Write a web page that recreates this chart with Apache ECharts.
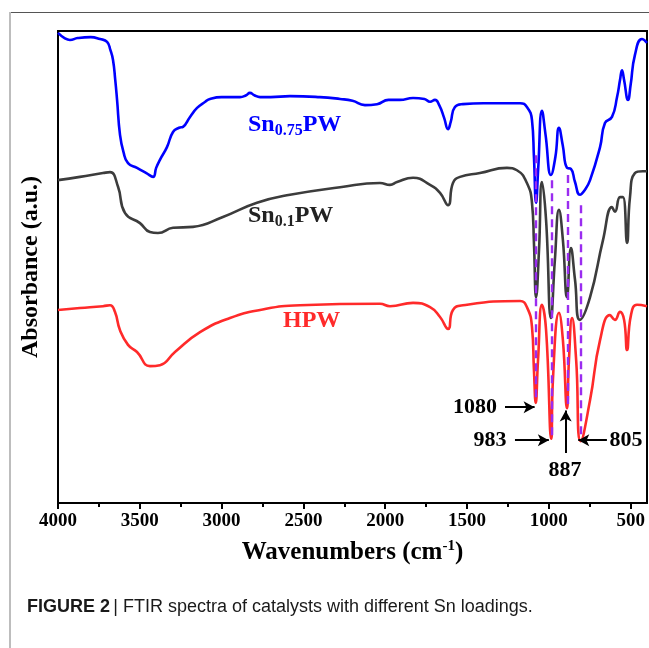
<!DOCTYPE html>
<html>
<head>
<meta charset="utf-8">
<script src="https://cdn.jsdelivr.net/npm/echarts@6/dist/echarts.min.js"></script>
<style>
html,body{margin:0;padding:0;background:#fff;}
#chart{width:649px;height:648px;}
</style>
</head>
<body>
<div id="chart"></div>
<script>
// ---- data (wavenumber cm-1, absorbance a.u. offset scale) ----
const tickValues = [500, 1000, 1500, 2000, 2500, 3000, 3500, 4000];
const minorTickValues = [750, 1250, 1750, 2250, 2750, 3250, 3750];

const sn075Wave = [4000,3960,3927,3880,3800,3743,3700,3680,3664,3650,3639,3621,3600,3572,3517,3460,3419,3400,3377,3334,3297,3260,3236,3193,3150,3100,3071,3000,2967,2888,2850,2827,2800,2765,2700,2582,2400,2276,2200,2124,2050,1980,1910,1830,1760,1726,1696,1670,1640,1616,1600,1574,1525,1400,1300,1176,1134,1103,1091,1078,1065,1042,1020,987,960,938,915,889,865,840,810,780,748,687,657,614,583,565,553,540,516,500,474,431,400];
const sn075Abs  = [99.6,98.5,98.1,98.5,98.7,98.3,97.7,96.0,93.9,89.6,85.4,78.0,74.4,72.0,71.0,69.9,69.1,71.0,72.7,75.4,78.6,79.5,79.7,81.8,83.7,85.0,85.6,86.0,86.0,86.0,86.4,86.9,86.4,86.0,86.0,86.2,86.0,85.6,85.2,84.3,84.5,85.4,85.4,85.8,85.6,85.0,85.4,84.3,81.6,79.2,80.7,83.9,84.5,84.7,84.7,84.7,83.9,81.1,73.3,63.6,70.8,83.1,78.0,69.5,73.3,79.5,75.8,71.0,70.8,68.0,65.3,66.3,68.4,75.4,80.5,81.8,86.0,89.6,91.7,89.6,85.4,88.6,94.9,98.3,97.5];

const sn01Wave = [4000,3866,3725,3682,3633,3590,3499,3438,3389,3297,3175,2992,2784,2582,2276,2032,1971,1928,1830,1726,1665,1616,1586,1543,1421,1256,1195,1134,1103,1091,1078,1060,1042,1017,987,963,938,914,889,865,840,810,748,669,614,596,565,547,522,504,474,425,400];
const sn01Abs  = [68.4,69.1,69.9,70.1,67.0,61.4,59.3,57.4,57.2,58.3,58.5,60.6,63.6,65.3,66.9,67.8,67.4,68.0,68.9,67.4,65.7,63.1,67.8,69.1,69.9,71.0,70.5,67.8,63.6,55.1,43.6,53.6,68.0,60.0,39.2,51.5,62.1,55.7,43.6,54.0,47.3,38.8,43.6,55.7,62.7,61.7,64.8,64.8,55.1,64.8,69.9,70.3,70.3];

const hpwWave = [4000,3866,3725,3682,3652,3621,3572,3517,3438,3377,3285,3132,2949,2765,2521,2032,1971,1830,1726,1665,1616,1586,1525,1176,1134,1103,1091,1080,1066,1042,1017,985,975,938,914,889,877,858,833,805,748,687,626,596,565,540,522,498,461,400];
const hpwAbs  = [40.9,41.3,41.7,41.9,40.5,36.6,33.5,32.0,29.0,29.2,32.0,36.2,39.2,40.9,41.9,42.2,41.7,42.4,41.5,39.4,36.9,40.9,41.9,42.8,41.5,37.3,28.2,21.2,30.3,42.0,36.7,13.6,26.1,40.3,34.5,20.1,30.3,39.2,30.3,13.1,21.8,34.5,39.8,38.8,40.5,38.8,32.4,39.8,42.0,41.7];

// marked bands: wavenumber, top and bottom of dashed guide
const bandWave   = [1080, 983, 887, 805];
const bandTop    = [73.7, 68.4, 69.5, 63.1];
const bandBottom = [21.8, 14.0, 20.8, 13.3];

// arrows: [fromWave, fromAbs] -> [toWave, toAbs]
const arrowFrom = [[1268, 20.3], [1207, 13.3], [897, 10.6], [645, 13.3]];
const arrowTo   = [[1087, 20.3], [1000, 13.3], [897, 19.6], [820, 13.3]];
const arrowText = ['1080', '983', '887', '805'];

function zip(a, b) { return a.map((v, i) => [v, b[i]]); }

const serif = "'Liberation Serif', 'Times New Roman', serif";
const chart = echarts.init(document.getElementById('chart'), null, {renderer: 'canvas'});

const option = {
  animation: false,
  backgroundColor: '#fff',
  grid: {left: 58, right: 2, top: 31, bottom: 145, show: true, borderColor: '#000', borderWidth: 2},
  xAxis: [{
    type: 'value', inverse: true, min: 400, max: 4000,
    axisLine: {show: true, lineStyle: {color: '#000', width: 2}},
    axisTick: {show: true, customValues: tickValues, length: 6, inside: false, lineStyle: {color: '#000', width: 2}},
    axisLabel: {show: true, customValues: tickValues, margin: 9, color: '#000', fontFamily: serif, fontWeight: 'bold', fontSize: 19,
                formatter: function (v) { return String(v); }},
    splitLine: {show: false},
    name: '{t|Wavenumbers (cm}{p|-1}{t|)}',
    nameLocation: 'middle', nameGap: 36,
    nameTextStyle: {
      rich: {
        t: {fontFamily: serif, fontWeight: 'bold', fontSize: 25, lineHeight: 28, color: '#000'},
        p: {fontFamily: serif, fontWeight: 'bold', fontSize: 15, lineHeight: 15, verticalAlign: 'top', color: '#000'}
      }
    }
  }, {
    type: 'value', inverse: true, min: 400, max: 4000, position: 'bottom',
    axisLine: {show: false},
    axisTick: {show: true, customValues: minorTickValues, length: 4, lineStyle: {color: '#000', width: 2}},
    axisLabel: {show: false},
    splitLine: {show: false}
  }],
  yAxis: {
    type: 'value', min: 0, max: 100,
    axisLine: {show: true, lineStyle: {color: '#000', width: 2}},
    axisTick: {show: false}, axisLabel: {show: false}, splitLine: {show: false},
    name: 'Absorbance (a.u.)', nameLocation: 'middle', nameGap: 15, nameRotate: 90,
    nameTextStyle: {fontFamily: serif, fontWeight: 'bold', fontSize: 24, color: '#000'}
  },
  series: [
    {name: 'HPW', type: 'line', data: zip(hpwWave, hpwAbs), symbol: 'none', smooth: 0.5,
     lineStyle: {color: '#ff2a2a', width: 2.6}},
    {name: 'Sn0.1PW', type: 'line', data: zip(sn01Wave, sn01Abs), symbol: 'none', smooth: 0.5,
     lineStyle: {color: '#3c3c3c', width: 2.6}},
    {name: 'Sn0.75PW', type: 'line', data: zip(sn075Wave, sn075Abs), symbol: 'none', smooth: 0.5,
     lineStyle: {color: '#0000ff', width: 2.6}},
    {name: 'bands', type: 'line', data: [], z: 5, silent: true,
     markLine: {
       silent: true, symbol: 'none', animation: false, label: {show: false},
       lineStyle: {color: '#9a2cf0', width: 2.4, type: [8, 5]},
       data: bandWave.map((w, i) => [{coord: [w, bandTop[i]]}, {coord: [w, bandBottom[i]]}])
     }},
    {name: 'arrows', type: 'line', data: [], z: 6, silent: true,
     markLine: {
       silent: true, symbol: ['none', 'arrow'], symbolSize: [9, 11], animation: false, label: {show: false},
       lineStyle: {color: '#000', width: 2, type: 'solid'},
       data: arrowFrom.map((f, i) => [{coord: f}, {coord: arrowTo[i]}])
     }}
  ],
  graphic: [
    {type: 'line', shape: {x1: 9, y1: 12.5, x2: 649, y2: 12.5}, style: {stroke: '#555', lineWidth: 1}, silent: true},
    {type: 'line', shape: {x1: 10, y1: 12, x2: 10, y2: 648}, style: {stroke: '#bdbdbd', lineWidth: 2}, silent: true},
    {type: 'text', left: 248, top: 113, style: {
      text: '{m|Sn}{s|0.75}{m|PW}',
      rich: {m: {fontFamily: serif, fontWeight: 'bold', fontSize: 24, lineHeight: 28, fill: '#0000ff'},
             s: {fontFamily: serif, fontWeight: 'bold', fontSize: 16, lineHeight: 16, verticalAlign: 'bottom', fill: '#0000ff'}}}},
    {type: 'text', left: 248, top: 204, style: {
      text: '{m|Sn}{s|0.1}{m|PW}',
      rich: {m: {fontFamily: serif, fontWeight: 'bold', fontSize: 24, lineHeight: 28, fill: '#222'},
             s: {fontFamily: serif, fontWeight: 'bold', fontSize: 16, lineHeight: 16, verticalAlign: 'bottom', fill: '#222'}}}},
    {type: 'text', left: 283, top: 309, style: {
      text: 'HPW', font: "bold 24px " + serif, fill: '#ff2a2a'}},
    {type: 'text', x: 475, y: 407, style: {text: arrowText[0], font: "bold 22px " + serif, fill: '#000', align: 'center', verticalAlign: 'middle'}},
    {type: 'text', x: 490, y: 440, style: {text: arrowText[1], font: "bold 22px " + serif, fill: '#000', align: 'center', verticalAlign: 'middle'}},
    {type: 'text', x: 565, y: 470, style: {text: arrowText[2], font: "bold 22px " + serif, fill: '#000', align: 'center', verticalAlign: 'middle'}},
    {type: 'text', x: 626, y: 440, style: {text: arrowText[3], font: "bold 22px " + serif, fill: '#000', align: 'center', verticalAlign: 'middle'}},
    {type: 'text', x: 27, y: 607, style: {
      text: '{b|FIGURE 2} {n|| FTIR spectra of catalysts with different Sn loadings.}',
      verticalAlign: 'middle',
      rich: {b: {fontFamily: "'Liberation Sans', sans-serif", fontWeight: 'bold', fontSize: 18, fill: '#1a1a1a'},
             n: {fontFamily: "'Liberation Sans', sans-serif", fontSize: 18, fill: '#1a1a1a'}}}}
  ]
};
chart.setOption(option);
</script>
</body>
</html>
